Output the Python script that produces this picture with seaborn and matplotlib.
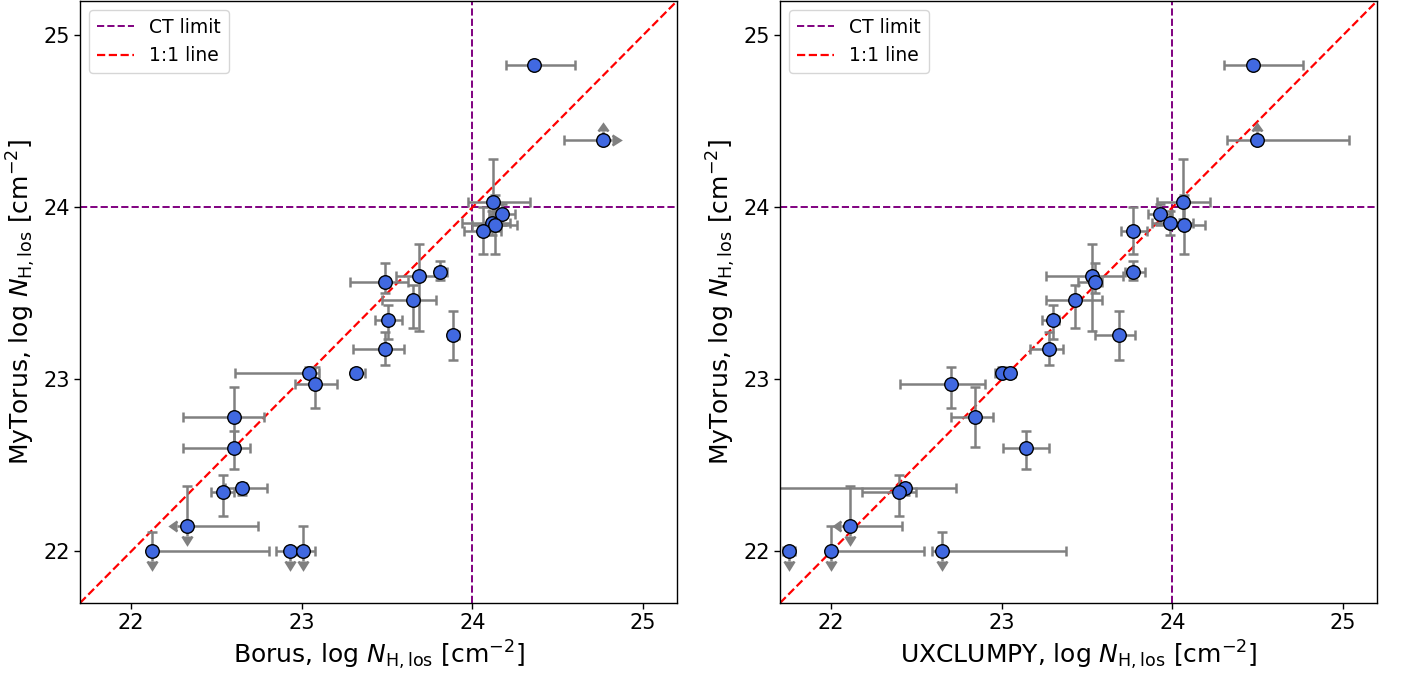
import numpy as np
import matplotlib
matplotlib.use("Agg")
import matplotlib.pyplot as plt
import seaborn as sns

# ---------------- data ----------------
# MyTorus log N_H,los (shared y values) and lower / upper bounds
mytorus = [24.83, 24.39, 24.03, 23.96, 23.91, 23.90, 23.86, 23.625, 23.60, 23.567,
           23.463, 23.343, 23.256, 23.178, 23.04, 23.04, 22.971, 22.782, 22.604, 22.366,
           22.345, 22.147, 22.0, 22.0, 22.0]
mytorus_lo = [24.83, 24.39, 23.93, 23.90, 23.84, 23.73, 23.73, 23.58, 23.28, 23.50,
              23.30, 23.237, 23.115, 23.082, 23.02, 23.02, 22.834, 22.607, 22.478, 22.33,
              22.207, 22.147, 22.0, 22.0, 22.0]
mytorus_hi = [24.83, 24.39, 24.28, 24.02, 23.98, 24.07, 24.00, 23.69, 23.79, 23.675,
              23.55, 23.43, 23.397, 23.275, 23.07, 23.06, 23.07, 22.955, 22.70, 22.40,
              22.443, 22.381, 22.11, 22.0, 22.147]
# limit flags for MyTorus: 1 = lower limit (arrow up), -1 = upper limit (arrow down)
mytorus_lim = [0, 1, 0, 0, 0, 0, 0, 0, 0, 0, 0, 0, 0, 0, 0, 0, 0, 0, 0, 0, 0, -1, -1, -1, -1]

borus = [24.363, 24.764, 24.123, 24.172, 24.113, 24.133, 24.06, 23.81, 23.689, 23.49,
         23.654, 23.507, 23.886, 23.49, 23.044, 23.32, 23.08, 22.605, 22.605, 22.65,
         22.54, 22.325, 22.12, 22.93, 23.005]
borus_lo = [24.20, 24.537, 23.976, 24.10, 23.94, 24.00, 23.95, 23.78, 23.55, 23.28,
            23.47, 23.43, 23.86, 23.30, 22.61, 23.29, 22.96, 22.305, 22.305, 22.55,
            22.47, 22.325, 22.12, 22.85, 23.005]
borus_hi = [24.60, 24.764, 24.338, 24.25, 24.22, 24.26, 24.17, 23.85, 23.80, 23.624,
            23.787, 23.59, 23.92, 23.60, 23.10, 23.37, 23.205, 22.78, 22.696, 22.794,
            22.60, 22.745, 22.81, 22.97, 23.078]
borus_lim = [0, 1, 0, 0, 0, 0, 0, 0, 0, 0, 0, 0, 0, 0, 0, 0, 0, 0, 0, 0, 0, -1, 0, 0, -1]

uxclumpy = [24.471, 24.494, 24.064, 23.93, 23.986, 24.07, 23.767, 23.767, 23.531, 23.548,
            23.429, 23.30, 23.687, 23.277, 23.004, 23.048, 22.703, 22.845, 23.144, 22.435,
            22.398, 22.112, 22.651, 21.753, 22.0]
uxclumpy_lo = [24.303, 24.322, 23.91, 23.86, 23.88, 23.98, 23.70, 23.72, 23.257, 23.449,
               23.257, 23.234, 23.546, 23.165, 22.96, 23.00, 22.403, 22.70, 23.005, 21.5,
               22.18, 22.112, 22.59, 21.72, 22.0]
uxclumpy_hi = [24.764, 25.037, 24.22, 24.00, 24.12, 24.19, 23.85, 23.84, 23.709, 23.59,
               23.587, 23.337, 23.781, 23.36, 23.04, 23.08, 22.90, 22.95, 23.275, 22.73,
               22.50, 22.417, 23.376, 21.79, 22.546]
uxclumpy_lim = [0, 0, 0, 0, 0, 0, 0, 0, 0, 0, 0, 0, 0, 0, 0, 0, 0, 0, 0, 0, 0, -1, 0, 0, 0]

ct_limit = 24.0
axis_range = [21.7, 25.2]
ticks = [22, 23, 24, 25]
arrow_len = 0.055

# ---------------- style ----------------
sns.set_theme(style="ticks")
plt.rcParams["font.family"] = ["DejaVu Sans"]
plt.rcParams["mathtext.fontset"] = "dejavusans"
plt.rcParams["text.color"] = "black"
plt.rcParams["axes.labelcolor"] = "black"
plt.rcParams["xtick.color"] = "black"
plt.rcParams["ytick.color"] = "black"

fig = plt.figure(figsize=(14.03, 6.74), dpi=100)
W, H = 1403, 674
ax1 = fig.add_axes([80 / W, 71 / H, 597 / W, 602 / H])
ax2 = fig.add_axes([780 / W, 71 / H, 597 / W, 602 / H])

ecol = "#808080"
cap = 3.6
elw = 1.8
eb_kw = dict(fmt="none", ecolor=ecol, color=ecol, elinewidth=elw, capsize=cap,
             capthick=elw, zorder=2)

yv = np.array(mytorus)
ylo = np.array(mytorus_lo)
yhi = np.array(mytorus_hi)
ylim_f = np.array(mytorus_lim)


def panel(ax, xs, xlo, xhi, xlim_f, xlabel):
    xv = np.array(xs)
    xlo = np.array(xlo)
    xhi = np.array(xhi)
    xlim_f = np.array(xlim_f)

    ax.axvline(ct_limit, color="purple", ls="--", lw=1.4, zorder=1, label="CT limit")
    ax.axhline(ct_limit, color="purple", ls="--", lw=1.4, zorder=1)
    sns.lineplot(x=axis_range, y=axis_range, ax=ax, color="red", linestyle="--",
                 lw=1.6, zorder=1, label="1:1 line")

    # regular two-sided error bars
    ax.errorbar(xv, yv, xerr=[xv - xlo, xhi - xv], yerr=[yv - ylo, yhi - yv], **eb_kw)
    # y limit arrows
    m = ylim_f == -1
    if m.any():
        ax.errorbar(xv[m], yv[m], yerr=arrow_len, uplims=True, **eb_kw)
    m = ylim_f == 1
    if m.any():
        ax.errorbar(xv[m], yv[m], yerr=arrow_len, lolims=True, **eb_kw)
    # x limit arrows
    m = xlim_f == -1
    if m.any():
        ax.errorbar(xv[m], yv[m], xerr=arrow_len, xuplims=True, **eb_kw)
    m = xlim_f == 1
    if m.any():
        ax.errorbar(xv[m], yv[m], xerr=arrow_len, xlolims=True, **eb_kw)

    sns.scatterplot(x=xv, y=yv, ax=ax, s=95, color="royalblue",
                    edgecolor="black", linewidth=1.0, zorder=3)

    ax.set_xlim(axis_range)
    ax.set_ylim(axis_range)
    ax.set_xticks(ticks)
    ax.set_yticks(ticks)
    ax.tick_params(labelsize=15, length=4, width=1, color="black")
    for s in ax.spines.values():
        s.set_visible(True)
        s.set_color("black")
        s.set_linewidth(1.0)
    ax.set_xlabel(xlabel, fontsize=18)
    ax.set_ylabel(r"MyTorus, log $N_{\mathrm{H,los}}$ [cm$^{-2}$]", fontsize=18)
    leg = ax.legend(loc="upper left", fontsize=13.5, frameon=True)
    leg.get_frame().set_edgecolor("#cccccc")


panel(ax1, borus, borus_lo, borus_hi, borus_lim,
      r"Borus, log $N_{\mathrm{H,los}}$ [cm$^{-2}$]")
panel(ax2, uxclumpy, uxclumpy_lo, uxclumpy_hi, uxclumpy_lim,
      r"UXCLUMPY, log $N_{\mathrm{H,los}}$ [cm$^{-2}$]")

fig.savefig("out.png", dpi=100)
